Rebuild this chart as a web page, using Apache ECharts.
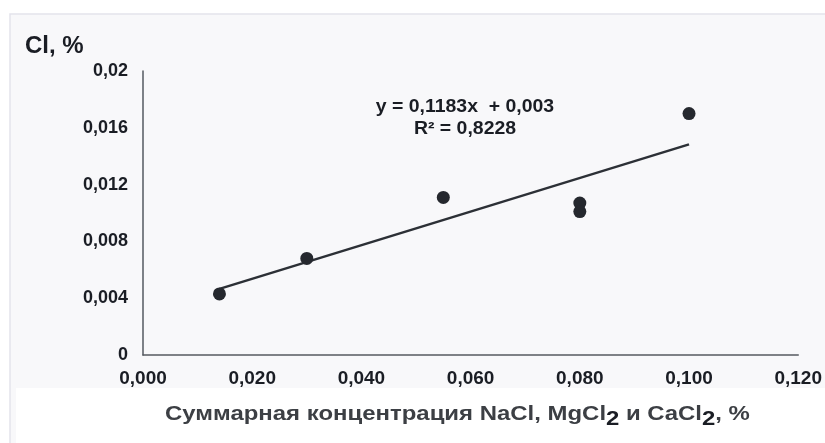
<!DOCTYPE html>
<html>
<head>
<meta charset="utf-8">
<script src="https://cdn.jsdelivr.net/npm/echarts@6/dist/echarts.min.js"></script>
<style>
html,body{margin:0;padding:0;background:#fff;}
#chart{width:825px;height:443px;}
</style>
</head>
<body>
<div id="chart"></div>
<script>
// Data
var xValues = [0.014, 0.030, 0.055, 0.080, 0.080, 0.100];
var yValues = [0.0043, 0.0068, 0.0111, 0.0107, 0.0101, 0.0170];
var trendSlope = 0.1183;
var trendIntercept = 0.003;
var trendRange = [0.014, 0.100];
var xTickLabels = ['0,000', '0,020', '0,040', '0,060', '0,080', '0,100', '0,120'];
var yTickLabels = ['0', '0,004', '0,008', '0,012', '0,016', '0,02'];
var equationLines = ['y = 0,1183x  + 0,003', 'R² = 0,8228'];
var yAxisTitle = 'Cl, %';

var points = xValues.map(function (x, i) { return [x, yValues[i]]; });
var trend = trendRange.map(function (x) { return [x, trendSlope * x + trendIntercept]; });

var chart = echarts.init(document.getElementById('chart'), null, {renderer: 'canvas'});
var font = 'Liberation Sans, Arial, sans-serif';
chart.setOption({
  backgroundColor: '#ffffff',
  animation: false,
  grid: {left: 143, right: 25, top: 71, bottom: 88, containLabel: false},
  xAxis: {
    type: 'value', min: 0, max: 0.12, interval: 0.02,
    axisLine: {show: true, lineStyle: {color: '#555a60', width: 1.5}},
    axisTick: {show: false},
    splitLine: {show: false},
    axisLabel: {
      margin: 14, color: '#1a1d24', fontFamily: font, fontWeight: 'bold', fontSize: 19,
      formatter: function (v) { return xTickLabels[Math.round(v / 0.02)]; }
    }
  },
  yAxis: {
    type: 'value', min: 0, max: 0.02, interval: 0.004,
    axisLine: {show: true, lineStyle: {color: '#555a60', width: 1.5}},
    axisTick: {show: false},
    splitLine: {show: false},
    axisLabel: {
      margin: 15, color: '#1a1d24', fontFamily: font, fontWeight: 'bold', fontSize: 18,
      formatter: function (v) { return yTickLabels[Math.round(v / 0.004)]; }
    }
  },
  graphic: [
    {type: 'rect', z: -10, silent: true, shape: {x: 10, y: 14, width: 830, height: 440},
     style: {fill: '#f8f8fa', stroke: '#e3e3ec', lineWidth: 1.5}},
    {type: 'rect', z: -9, silent: true, shape: {x: 16, y: 388, width: 820, height: 60},
     style: {fill: '#ffffff'}},
    {type: 'text', x: 25, y: 46, z: 10,
     style: {text: yAxisTitle, font: 'bold 24px Liberation Sans, Arial, sans-serif', fill: '#1a1d24', textVerticalAlign: 'middle'}},
    {type: 'text', x: 465, y: 107, z: 10, scaleX: 1.08, originX: 0, originY: 0,
     style: {text: equationLines[0], font: 'bold 18px Liberation Sans, Arial, sans-serif', fill: '#1a1d24', textAlign: 'center', textVerticalAlign: 'middle'}},
    {type: 'text', x: 465, y: 129, z: 10, scaleX: 1.08, originX: 0, originY: 0,
     style: {text: equationLines[1], font: 'bold 18px Liberation Sans, Arial, sans-serif', fill: '#1a1d24', textAlign: 'center', textVerticalAlign: 'middle'}},
    {type: 'text', x: 165, y: 414, z: 10, scaleX: 1.14, originX: 0, originY: 0,
     style: {
       text: '{a|Суммарная концентрация NaCl, MgCl}{s|2}{a| и CaCl}{s|2}{a|, %}',
       textVerticalAlign: 'middle',
       rich: {
         a: {fontFamily: font, fontWeight: 'bold', fontSize: 21, fill: '#3c3f44', color: '#3c3f44'},
         s: {fontFamily: font, fontWeight: 'bold', fontSize: 21, fill: '#1a1d24', color: '#1a1d24', padding: [10, 0, 0, 0]}
       }
     }}
  ],
  series: [
    {
      type: 'line', data: trend, symbol: 'none', z: 3,
      lineStyle: {color: '#2c3036', width: 2.5}
    },
    {
      type: 'scatter', data: points, symbol: 'circle', symbolSize: 13, z: 4,
      itemStyle: {color: '#25282e', opacity: 1}
    }
  ]
});
</script>
</body>
</html>
